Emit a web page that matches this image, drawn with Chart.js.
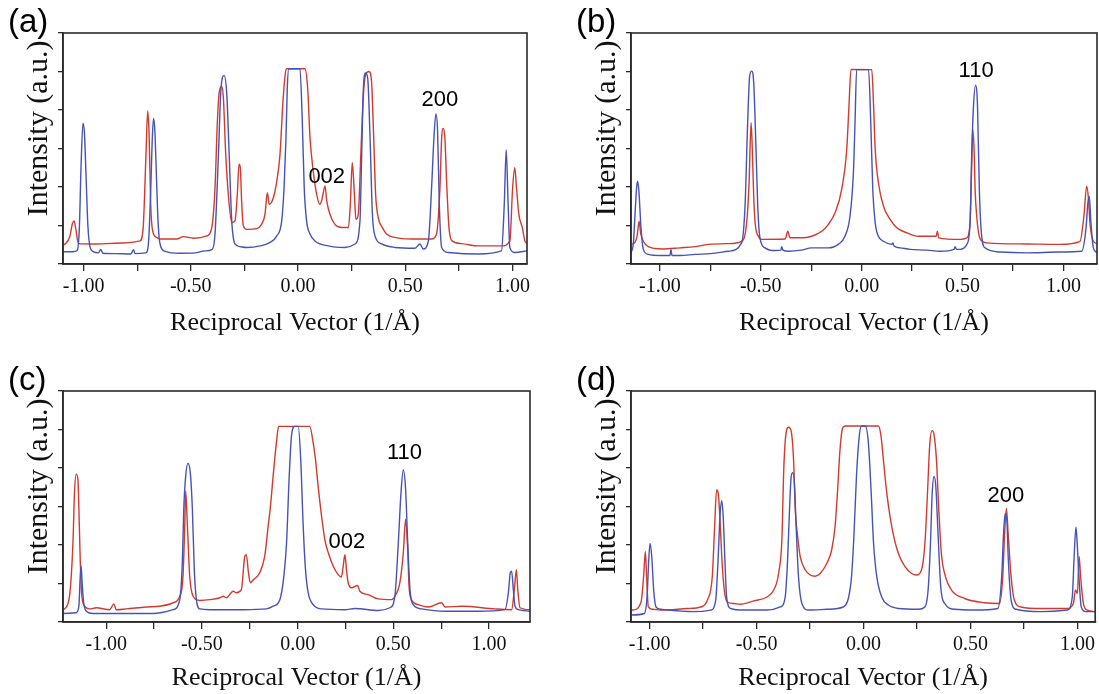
<!DOCTYPE html>
<html>
<head>
<meta charset="utf-8">
<script src="https://cdn.jsdelivr.net/npm/chart.js@4.4.1/dist/chart.umd.min.js"></script>
<style>
  html, body { margin: 0; padding: 0; background: #fff; }
  #wrap { position: relative; width: 1099px; height: 694px; overflow: hidden; }
  canvas { position: absolute; }
</style>
</head>
<body>
<div id="wrap">
  <canvas id="chart-a" width="549" height="347" style="left:0;top:0"></canvas>
  <canvas id="chart-b" width="550" height="347" style="left:549px;top:0"></canvas>
  <canvas id="chart-c" width="549" height="347" style="left:0;top:347px"></canvas>
  <canvas id="chart-d" width="550" height="347" style="left:549px;top:347px"></canvas>
</div>
<script>
// panel (a)
const aBlueX = [-1.096, -1.05, -1.03, -1.02, -1.012, -1.003, -0.996, -0.988, -0.980, -0.970,
  -0.955, -0.93, -0.92, -0.91, -0.85, -0.78, -0.767, -0.76, -0.71, -0.698,
  -0.687, -0.680, -0.674, -0.668, -0.662, -0.655, -0.648, -0.640, -0.62, -0.55,
  -0.48, -0.434, -0.40, -0.387, -0.371, -0.360, -0.345, -0.332, -0.321, -0.309,
  -0.294, -0.270, -0.239, -0.177, -0.130, -0.099, -0.076, -0.065, -0.056, -0.050,
  -0.043, 0.009, 0.020, 0.029, 0.040, 0.056, 0.079, 0.141, 0.219, 0.266,
  0.289, 0.297, 0.305, 0.315, 0.325, 0.336, 0.347, 0.359, 0.390, 0.452,
  0.545, 0.569, 0.584, 0.608, 0.623, 0.634, 0.643, 0.651, 0.659, 0.670,
  0.701, 0.841, 0.949, 0.962, 0.971, 0.980, 0.988, 1.011, 1.068];
const aBlueY = [0.32, 0.32, 0.35, 0.90, 2.50, 3.66, 3.40, 2.20, 1.00, 0.45,
  0.32, 0.29, 0.38, 0.28, 0.27, 0.26, 0.37, 0.27, 0.29, 0.50,
  1.90, 3.20, 3.78, 3.50, 2.60, 1.40, 0.70, 0.45, 0.33, 0.28,
  0.29, 0.34, 0.38, 0.78, 2.85, 4.48, 4.90, 4.40, 2.85, 1.12,
  0.52, 0.45, 0.43, 0.47, 0.56, 0.73, 1.12, 1.98, 3.28, 4.57,
  5.07, 5.07, 3.71, 1.98, 1.12, 0.78, 0.60, 0.47, 0.43, 0.52,
  1.12, 2.84, 4.57, 4.96, 4.83, 3.28, 1.29, 0.73, 0.52, 0.43,
  0.41, 0.52, 0.39, 0.60, 1.98, 3.28, 3.90, 3.45, 1.55, 0.43,
  0.30, 0.26, 0.34, 1.55, 2.97, 1.55, 0.43, 0.30, 0.34];
const aRedX = [-1.096, -1.086, -1.065, -1.052, -1.044, -1.036, -1.024, -0.95, -0.85, -0.737,
  -0.722, -0.709, -0.701, -0.694, -0.687, -0.678, -0.659, -0.643, -0.566, -0.535,
  -0.487, -0.425, -0.402, -0.387, -0.376, -0.367, -0.356, -0.348, -0.337, -0.325,
  -0.309, -0.294, -0.283, -0.275, -0.269, -0.263, -0.255, -0.239, -0.193, -0.170,
  -0.154, -0.143, -0.134, -0.115, -0.099, -0.084, -0.071, -0.060, -0.053, 0.032,
  0.045, 0.056, 0.071, 0.087, 0.102, 0.110, 0.118, 0.126, 0.134, 0.149,
  0.172, 0.204, 0.235, 0.244, 0.253, 0.263, 0.270, 0.281, 0.293, 0.305,
  0.315, 0.331, 0.343, 0.353, 0.362, 0.374, 0.393, 0.413, 0.452, 0.530,
  0.623, 0.646, 0.662, 0.670, 0.677, 0.685, 0.693, 0.704, 0.719, 0.763,
  0.841, 0.949, 0.988, 1.001, 1.011, 1.019, 1.030, 1.046, 1.058, 1.068];
const aRedY = [0.50, 0.52, 0.70, 1.05, 1.12, 0.90, 0.53, 0.52, 0.54, 0.60,
  0.95, 2.84, 3.98, 3.28, 1.55, 0.86, 0.69, 0.65, 0.65, 0.71,
  0.67, 0.73, 0.95, 1.98, 3.71, 4.48, 4.61, 4.31, 2.84, 1.81,
  1.08, 1.12, 1.81, 2.59, 2.50, 1.64, 0.99, 0.90, 0.92, 1.03,
  1.29, 1.85, 1.55, 1.72, 2.15, 2.84, 4.14, 4.91, 5.07, 5.07,
  4.57, 3.28, 2.41, 1.81, 1.55, 1.64, 1.85, 2.03, 1.64, 1.29,
  1.03, 0.95, 0.95, 1.55, 2.63, 1.81, 1.16, 1.29, 2.84, 4.40,
  4.91, 5.00, 4.74, 3.28, 1.81, 1.21, 0.95, 0.78, 0.69, 0.65,
  0.65, 0.78, 1.98, 3.28, 3.52, 3.28, 2.15, 0.95, 0.60, 0.53,
  0.47, 0.47, 0.60, 1.98, 2.50, 1.98, 1.29, 0.95, 0.60, 0.53];

// panel (b)
const bBlueX = [-1.143, -1.131, -1.122, -1.115, -1.110, -1.104, -1.093, -1.082, -1.057, -1.00,
  -0.95, -0.945, -0.940, -0.90, -0.826, -0.75, -0.661, -0.595, -0.578, -0.565,
  -0.555, -0.545, -0.535, -0.525, -0.515, -0.504, -0.479, -0.429, -0.400, -0.396,
  -0.390, -0.363, -0.30, -0.248, -0.165, -0.116, -0.083, -0.058, -0.041, -0.033,
  -0.025, 0.034, 0.045, 0.055, 0.067, 0.083, 0.108, 0.149, 0.155, 0.160,
  0.191, 0.240, 0.323, 0.389, 0.458, 0.463, 0.470, 0.488, 0.521, 0.537,
  0.545, 0.554, 0.564, 0.574, 0.583, 0.593, 0.611, 0.686, 0.818, 0.983,
  1.090, 1.111, 1.121, 1.128, 1.136, 1.148, 1.166];
const bBlueY = [0.29, 0.55, 1.40, 2.00, 2.15, 1.90, 0.90, 0.38, 0.25, 0.22,
  0.22, 0.38, 0.22, 0.22, 0.25, 0.27, 0.33, 0.55, 1.50, 3.67,
  4.88, 5.01, 4.71, 3.24, 1.50, 0.68, 0.42, 0.35, 0.36, 0.45,
  0.36, 0.33, 0.36, 0.42, 0.42, 0.51, 0.72, 1.24, 2.37, 3.67,
  5.05, 5.05, 3.67, 1.94, 1.07, 0.72, 0.59, 0.51, 0.55, 0.47,
  0.42, 0.38, 0.36, 0.33, 0.38, 0.45, 0.38, 0.38, 0.51, 1.07,
  2.80, 4.10, 4.64, 4.10, 1.94, 0.81, 0.42, 0.31, 0.29, 0.31,
  0.33, 0.90, 1.59, 1.76, 1.07, 0.42, 0.29];
const bRedX = [-1.143, -1.125, -1.112, -1.103, -1.095, -1.082, -1.057, -0.991, -0.90, -0.826,
  -0.760, -0.661, -0.595, -0.570, -0.558, -0.548, -0.542, -0.535, -0.528, -0.512,
  -0.495, -0.379, -0.366, -0.355, -0.297, -0.248, -0.198, -0.165, -0.132, -0.099,
  -0.074, -0.063, -0.053, 0.050, 0.059, 0.067, 0.083, 0.108, 0.141, 0.174,
  0.224, 0.281, 0.369, 0.375, 0.382, 0.488, 0.521, 0.537, 0.545, 0.550,
  0.557, 0.562, 0.570, 0.587, 0.620, 0.818, 0.983, 1.082, 1.101, 1.115,
  1.124, 1.131, 1.148, 1.166];
const bRedY = [0.51, 0.55, 0.75, 1.11, 0.80, 0.59, 0.45, 0.39, 0.42, 0.45,
  0.51, 0.53, 0.59, 1.07, 2.11, 3.67, 2.98, 1.76, 1.07, 0.72,
  0.64, 0.65, 0.85, 0.68, 0.68, 0.72, 0.85, 1.03, 1.33, 1.94,
  2.98, 4.10, 5.05, 5.05, 4.10, 2.98, 2.11, 1.50, 1.16, 0.94,
  0.81, 0.72, 0.72, 0.85, 0.68, 0.64, 0.68, 1.07, 2.54, 3.50,
  2.98, 1.94, 1.24, 0.65, 0.55, 0.52, 0.51, 0.59, 1.24, 2.02,
  1.68, 1.07, 0.59, 0.53];

// panel (c)
const cBlueX = [-1.226, -1.157, -1.143, -1.136, -1.131, -1.126, -1.118, -1.104, -1.069, -0.895,
  -0.756, -0.651, -0.616, -0.602, -0.595, -0.585, -0.573, -0.561, -0.550, -0.540,
  -0.529, -0.511, -0.459, -0.285, -0.163, -0.128, -0.093, -0.072, -0.058, -0.044,
  -0.032, -0.015, 0.003, 0.016, 0.029, 0.041, 0.055, 0.081, 0.125, 0.247,
  0.299, 0.421, 0.482, 0.508, 0.526, 0.540, 0.552, 0.564, 0.575, 0.587,
  0.604, 0.648, 0.770, 0.944, 1.083, 1.101, 1.111, 1.118, 1.127, 1.136,
  1.153, 1.214];
const cBlueY = [0.22, 0.24, 0.41, 1.19, 1.45, 1.02, 0.50, 0.28, 0.22, 0.22,
  0.22, 0.32, 0.58, 1.62, 2.93, 3.79, 4.12, 3.88, 2.93, 1.36,
  0.58, 0.34, 0.32, 0.32, 0.34, 0.41, 0.58, 1.19, 2.06, 3.79,
  4.84, 5.08, 5.08, 4.23, 2.49, 1.36, 0.76, 0.45, 0.34, 0.32,
  0.35, 0.30, 0.37, 0.67, 2.06, 3.36, 3.95, 3.45, 2.06, 0.84,
  0.45, 0.34, 0.28, 0.28, 0.32, 0.76, 1.28, 1.32, 0.84, 0.41,
  0.32, 0.28];
const cRedX = [-1.226, -1.218, -1.192, -1.174, -1.166, -1.157, -1.148, -1.143, -1.136, -1.129,
  -1.113, -1.087, -1.052, -0.982, -0.960, -0.948, -0.895, -0.791, -0.721, -0.651,
  -0.616, -0.599, -0.590, -0.585, -0.576, -0.564, -0.546, -0.511, -0.459, -0.407,
  -0.389, -0.372, -0.337, -0.320, -0.294, -0.276, -0.268, -0.257, -0.247, -0.233,
  -0.198, -0.172, -0.154, -0.142, -0.128, -0.111, -0.099, 0.063, 0.081, 0.093,
  0.107, 0.125, 0.142, 0.160, 0.186, 0.212, 0.229, 0.238, 0.247, 0.255,
  0.264, 0.282, 0.313, 0.325, 0.369, 0.421, 0.491, 0.508, 0.534, 0.552,
  0.564, 0.575, 0.582, 0.595, 0.630, 0.683, 0.752, 0.770, 0.857, 1.031,
  1.118, 1.132, 1.143, 1.150, 1.162, 1.214];
const cRedY = [0.32, 0.34, 0.67, 2.06, 3.36, 3.84, 3.71, 2.93, 1.62, 0.76,
  0.41, 0.34, 0.37, 0.32, 0.47, 0.32, 0.34, 0.39, 0.41, 0.50,
  0.67, 1.19, 2.49, 3.40, 2.49, 1.19, 0.67, 0.56, 0.58, 0.63,
  0.67, 0.63, 0.80, 0.76, 0.84, 1.71, 1.75, 1.28, 1.02, 1.09,
  1.28, 1.71, 2.49, 3.01, 3.79, 4.66, 5.08, 5.08, 4.66, 4.23,
  3.53, 2.75, 2.14, 1.80, 1.45, 1.23, 1.17, 1.45, 1.75, 1.36,
  1.02, 0.89, 0.95, 0.80, 0.71, 0.60, 0.58, 0.67, 1.02, 1.80,
  2.67, 1.88, 0.93, 0.58, 0.45, 0.39, 0.50, 0.39, 0.41, 0.34,
  0.32, 0.84, 1.36, 0.84, 0.37, 0.32];

// panel (d)
const dBlueX = [-1.087, -1.025, -1.012, -1.004, -0.998, -0.990, -0.981, -0.970, -0.947, -0.792,
  -0.714, -0.691, -0.680, -0.671, -0.663, -0.656, -0.648, -0.640, -0.621, -0.559,
  -0.451, -0.389, -0.366, -0.355, -0.346, -0.338, -0.330, -0.323, -0.315, -0.304,
  -0.288, -0.257, -0.172, -0.095, -0.071, -0.056, -0.045, -0.033, -0.020, -0.010,
  0.008, 0.023, 0.036, 0.047, 0.062, 0.085, 0.116, 0.163, 0.256, 0.287,
  0.302, 0.313, 0.321, 0.330, 0.338, 0.349, 0.361, 0.380, 0.426, 0.519,
  0.628, 0.646, 0.654, 0.662, 0.670, 0.677, 0.690, 0.713, 0.829, 0.953,
  0.976, 0.984, 0.993, 0.999, 1.007, 1.018, 1.038, 1.083];
const dBlueY = [0.18, 0.22, 0.65, 1.61, 2.04, 1.70, 0.83, 0.39, 0.33, 0.27,
  0.31, 0.57, 1.61, 2.74, 3.15, 2.74, 1.61, 0.65, 0.35, 0.31,
  0.31, 0.39, 0.65, 1.61, 2.91, 3.78, 3.88, 3.60, 2.48, 1.18,
  0.48, 0.31, 0.33, 0.39, 0.61, 1.18, 2.22, 3.78, 4.82, 5.09,
  5.09, 4.64, 3.34, 2.04, 1.18, 0.65, 0.44, 0.35, 0.33, 0.39,
  0.83, 2.04, 3.34, 3.78, 3.52, 2.22, 0.91, 0.48, 0.33, 0.31,
  0.35, 1.18, 2.22, 2.81, 2.65, 1.61, 0.57, 0.33, 0.27, 0.31,
  0.65, 1.61, 2.46, 2.04, 1.18, 0.39, 0.27, 0.27];
const dRedX = [-1.087, -1.079, -1.040, -1.028, -1.020, -1.014, -1.006, -0.986, -0.947, -0.823,
  -0.761, -0.730, -0.707, -0.696, -0.687, -0.679, -0.671, -0.660, -0.650, -0.637,
  -0.606, -0.575, -0.513, -0.451, -0.420, -0.397, -0.381, -0.374, -0.364, -0.350,
  -0.338, -0.327, -0.319, -0.308, -0.296, -0.272, -0.249, -0.226, -0.203, -0.172,
  -0.149, -0.133, -0.122, -0.110, -0.098, -0.087, 0.070, 0.082, 0.093, 0.109,
  0.132, 0.163, 0.194, 0.225, 0.248, 0.271, 0.287, 0.299, 0.310, 0.321,
  0.330, 0.341, 0.352, 0.364, 0.383, 0.411, 0.473, 0.566, 0.636, 0.651,
  0.659, 0.668, 0.677, 0.690, 0.705, 0.736, 0.829, 0.953, 0.981, 0.991,
  1.000, 1.008, 1.015, 1.028, 1.046, 1.083];
const dRedY = [0.31, 0.31, 0.52, 1.18, 1.83, 1.18, 0.39, 0.33, 0.31, 0.35,
  0.39, 0.57, 1.18, 2.48, 3.43, 3.34, 2.65, 1.44, 0.79, 0.52,
  0.48, 0.46, 0.55, 0.65, 0.83, 1.26, 2.22, 3.78, 4.82, 5.06,
  4.95, 4.21, 2.91, 2.22, 1.70, 1.35, 1.22, 1.19, 1.26, 1.52,
  1.87, 2.48, 3.34, 4.47, 5.03, 5.09, 5.09, 4.82, 4.21, 3.34,
  2.48, 1.78, 1.44, 1.26, 1.22, 1.35, 2.04, 3.34, 4.64, 4.97,
  4.86, 4.21, 2.91, 1.78, 1.18, 0.83, 0.61, 0.50, 0.48, 1.18,
  2.22, 2.95, 2.22, 1.18, 0.57, 0.39, 0.35, 0.35, 0.48, 0.83,
  0.74, 1.70, 1.18, 0.48, 0.31, 0.27];

// peak labels: text, x, y
const aNoteText = ['002', '200'], aNoteX = [0.134, 0.662], aNoteY = [2.27, 4.25];
const bNoteText = ['110'], bNoteX = [0.567], bNoteY = [5.02];
const cNoteText = ['002', '110'], cNoteX = [0.257, 0.558], cNoteY = [2.08, 4.40];
const dNoteText = ['200'], dNoteX = [0.665], dNoteY = [3.27];

const RED = '#d23a2e';
const BLUE = '#4553b6';
const SERIF = '"Liberation Serif", "Times New Roman", serif';
const SANS = '"Liberation Sans", Arial, sans-serif';

function pts(xs, ys) {
  return xs.map((x, i) => ({ x: x, y: ys[i] }));
}

// box frame, panel letter and peak labels
const decor = {
  id: 'decor',
  afterDatasetsDraw(chart, args, opts) {
    const { ctx, chartArea: a, scales } = chart;
    ctx.save();
    ctx.strokeStyle = '#2a2a2a';
    ctx.lineWidth = 1.6;
    ctx.strokeRect(a.left, a.top, a.right - a.left, a.bottom - a.top);
    ctx.fillStyle = '#000';
    ctx.textBaseline = 'middle';
    ctx.textAlign = 'center';
    ctx.font = '22px ' + SANS;
    opts.notes.text.forEach((t, i) => {
      ctx.fillText(t, scales.x.getPixelForValue(opts.notes.x[i]), scales.y.getPixelForValue(opts.notes.y[i]));
    });
    ctx.textAlign = 'left';
    ctx.font = '33px ' + SANS;
    ctx.fillText(opts.letter, a.left - 55, a.top - 10);
    ctx.restore();
  }
};

function makePanel(id, p) {
  const line = { borderWidth: 1.4, pointRadius: 0, cubicInterpolationMode: 'monotone' };
  new Chart(document.getElementById(id), {
    type: 'line',
    data: {
      datasets: [
        Object.assign({ data: pts(p.blueX, p.blueY), borderColor: BLUE }, line),
        Object.assign({ data: pts(p.redX, p.redY), borderColor: RED }, line)
      ]
    },
    options: {
      responsive: false,
      animation: false,
      layout: { padding: { left: p.padL, right: p.padR, top: p.padT, bottom: 0 } },
      plugins: {
        legend: { display: false },
        tooltip: { enabled: false },
        decor: { letter: p.letter, notes: p.notes }
      },
      scales: {
        x: {
          type: 'linear',
          min: p.xMin,
          max: p.xMax,
          afterFit: s => { s.height = p.axisH; },
          ticks: {
            stepSize: 0.25,
            includeBounds: false,
            autoSkip: false,
            maxRotation: 0,
            padding: 4,
            color: '#111',
            font: { family: SERIF, size: 20 },
            callback: v => Math.abs(v * 2 - Math.round(v * 2)) < 1e-6 ? v.toFixed(2) : ''
          },
          grid: { drawOnChartArea: false, tickLength: 7, color: '#2a2a2a', lineWidth: 1.3 },
          border: { display: true, color: '#2a2a2a', width: 1.6 },
          title: {
            display: true,
            text: 'Reciprocal Vector (1/Å)',
            color: '#111',
            font: { family: SERIF, size: 26, lineHeight: 1 },
            padding: { top: 0, bottom: p.xTitlePad }
          }
        },
        y: {
          type: 'linear',
          min: 0,
          max: 6,
          afterFit: s => { s.width = 63; },
          ticks: { display: false, stepSize: 1 },
          grid: { drawOnChartArea: false, tickLength: 5, color: '#2a2a2a', lineWidth: 1.3 },
          border: { display: true, color: '#2a2a2a', width: 1.6 },
          title: {
            display: true,
            text: 'Intensity (a.u.) ',
            align: 'end',
            color: '#111',
            font: { family: SERIF, size: 30, lineHeight: 1 },
            padding: { top: 24, bottom: 0 }
          }
        }
      }
    },
    plugins: [decor]
  });
}

makePanel('chart-a', {
  letter: '(a)', xMin: -1.096, xMax: 1.068, padL: 0, padR: 22, padT: 33, axisH: 83, xTitlePad: 11,
  blueX: aBlueX, blueY: aBlueY, redX: aRedX, redY: aRedY,
  notes: { text: aNoteText, x: aNoteX, y: aNoteY }
});
makePanel('chart-b', {
  letter: '(b)', xMin: -1.143, xMax: 1.166, padL: 19, padR: 2, padT: 33, axisH: 83, xTitlePad: 11,
  blueX: bBlueX, blueY: bBlueY, redX: bRedX, redY: bRedY,
  notes: { text: bNoteText, x: bNoteX, y: bNoteY }
});
makePanel('chart-c', {
  letter: '(c)', xMin: -1.226, xMax: 1.214, padL: 0, padR: 19, padT: 44, axisH: 72, xTitlePad: 3,
  blueX: cBlueX, blueY: cBlueY, redX: cRedX, redY: cRedY,
  notes: { text: cNoteText, x: cNoteX, y: cNoteY }
});
makePanel('chart-d', {
  letter: '(d)', xMin: -1.087, xMax: 1.083, padL: 19, padR: 2, padT: 44, axisH: 72, xTitlePad: 3,
  blueX: dBlueX, blueY: dBlueY, redX: dRedX, redY: dRedY,
  notes: { text: dNoteText, x: dNoteX, y: dNoteY }
});
</script>
</body>
</html>
